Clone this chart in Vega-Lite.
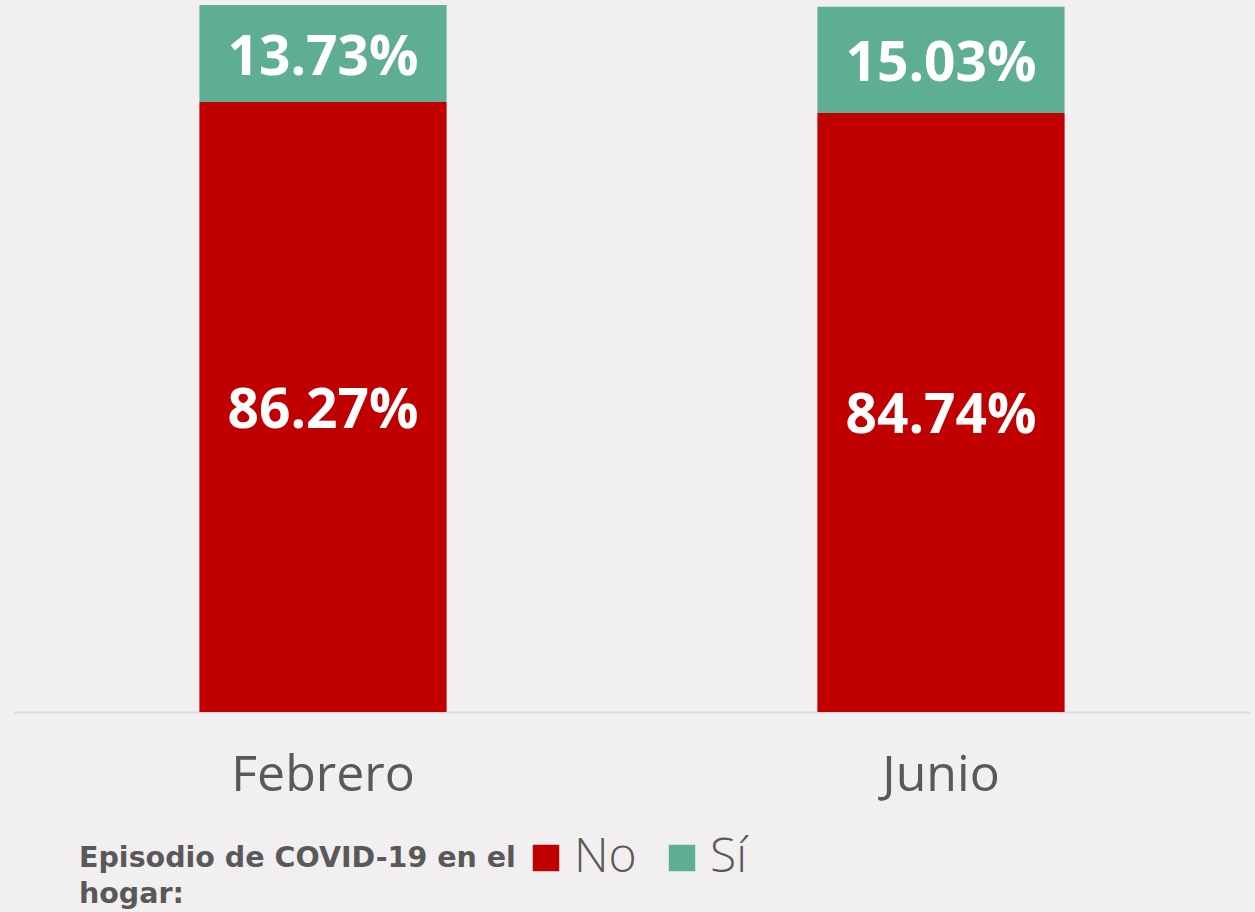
{
  "$schema": "https://vega.github.io/schema/vega-lite/v6.json",
  "width": 1236,
  "height": 707,
  "autosize": "none",
  "padding": {"left": 14, "top": 5, "right": 5, "bottom": 200},
  "background": "#F2EFF0",
  "config": {
    "view": {"stroke": null},
    "font": "Open Sans"
  },
  "data": {
    "values": [
      {"mes": "Febrero", "respuesta": "No", "pct": 86.27},
      {"mes": "Febrero", "respuesta": "Sí", "pct": 13.73},
      {"mes": "Junio", "respuesta": "No", "pct": 84.74},
      {"mes": "Junio", "respuesta": "Sí", "pct": 15.03}
    ]
  },
  "transform": [
    {"stack": "pct", "groupby": ["mes"], "sort": [{"field": "respuesta", "order": "ascending"}], "as": ["y0", "y1"]},
    {"calculate": "(datum.y0 + datum.y1) / 2", "as": "ymid"},
    {"calculate": "format(datum.pct, '.2f') + '%'", "as": "etiqueta"}
  ],
  "encoding": {
    "x": {
      "field": "mes",
      "type": "nominal",
      "sort": ["Febrero", "Junio"],
      "scale": {"paddingInner": 0.6, "paddingOuter": 0.3},
      "axis": {
        "title": null,
        "labelAngle": 0,
        "ticks": false,
        "domainColor": "#D9D9D9",
        "domainWidth": 2,
        "labelFont": "Open Sans",
        "labelFontSize": 50,
        "labelColor": "#595959",
        "labelBaseline": "alphabetic",
        "labelPadding": 78,
        "labelLimit": 500
      }
    }
  },
  "layer": [
    {
      "mark": {"type": "bar"},
      "encoding": {
        "y": {"field": "y0", "type": "quantitative", "scale": {"domain": [0, 100], "nice": false}, "axis": null},
        "y2": {"field": "y1"},
        "color": {
          "field": "respuesta",
          "type": "nominal",
          "scale": {"domain": ["No", "Sí"], "range": ["#C00000", "#5EAE94"]},
          "legend": {
            "orient": "none",
            "legendX": 65,
            "legendY": 829,
            "direction": "horizontal",
            "title": ["Episodio de COVID-19 en el", "hogar:"],
            "titleOrient": "left",
            "titleAnchor": "start",
            "titleBaseline": "top",
            "titleFont": "DejaVu Sans",
            "titleFontSize": 28.5,
            "titleFontWeight": "bold",
            "titleColor": "#595959",
            "titleLineHeight": 36,
            "titlePadding": 6,
            "titleLimit": 600,
            "symbolType": "square",
            "symbolSize": 700,
            "symbolStrokeWidth": 0,
            "symbolOpacity": 1,
            "labelFont": "Open Sans",
            "labelFontSize": 48,
            "labelFontWeight": 300,
            "labelColor": "#595959",
            "labelOffset": 4,
            "columnPadding": 21,
            "encode": {"title": {"update": {"dy": {"value": 10}}}}
          }
        }
      }
    },
    {
      "mark": {"type": "text", "color": "#FFFFFF", "fontSize": 55, "fontWeight": "bold", "font": "Open Sans", "baseline": "middle", "dy": 4},
      "encoding": {
        "y": {"field": "ymid", "type": "quantitative"},
        "text": {"field": "etiqueta", "type": "nominal"}
      }
    }
  ]
}
